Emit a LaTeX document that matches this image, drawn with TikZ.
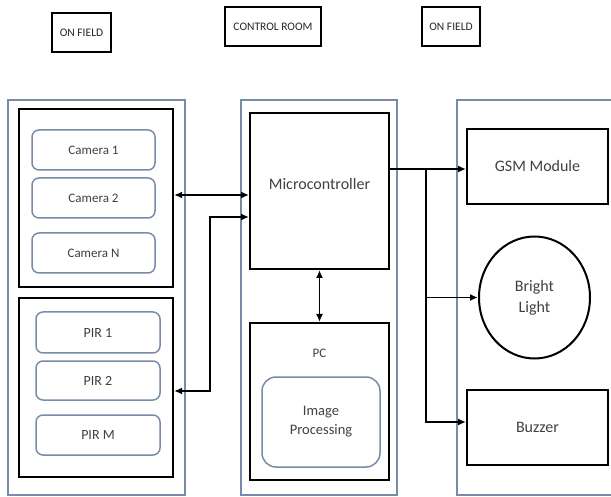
\documentclass[tikz,border=0pt]{standalone}
\usepackage{fontspec}
\setmainfont{Carlito}
\usetikzlibrary{arrows.meta,shapes.geometric}
\definecolor{panelblue}{RGB}{120,140,170}
\tikzset{
  panel/.style = {draw = panelblue, line width = 1.1pt, minimum width = #1, minimum height = 395pt, inner sep = 0pt},
  header/.style = {draw, line width = 1.4pt, minimum height = 39pt, inner sep = 0pt, font = \fontsize{11.5}{12}\selectfont, text = black!85},
  group/.style = {draw, line width = 2.2pt, inner sep = 0pt},
  item/.style = {draw = panelblue, line width = 1.5pt, rounded corners = 7pt, inner sep = 0pt, text = black!75},
  unit/.style = {draw, line width = 2pt, inner sep = 0pt, minimum width = 141pt, minimum height = 75pt, font = \fontsize{16}{18}\selectfont, text = black!75},
  link/.style = {line width = 1.8pt, -{Latex[length = 8pt, width = 7pt]}},
  dlink/.style = {line width = 1.8pt, {Latex[length = 8pt, width = 7pt]}-{Latex[length = 8pt, width = 7pt]}}
}
\begin{document}
\begin{tikzpicture}[x = 1pt, y = -1pt]
\useasboundingbox (0, 0) rectangle (611, 497);
\node[header, minimum width = 59pt] (fieldA) at (81.5, 32.5) {ON FIELD};
\node[header, minimum width = 96pt] (room) at (273, 26.5) {CONTROL ROOM};
\node[header, minimum width = 58pt] (fieldB) at (451, 26.5) {ON FIELD};
\node[panel = 177pt] (panelA) at (96.5, 297.5) {};
\node[panel = 156pt] (panelB) at (319, 297.5) {};
\node[panel = 158pt] (panelC) at (536, 297.5) {};
\node[group, minimum width = 154pt, minimum height = 178pt] (cams) at (96, 198) {};
\node[group, minimum width = 154pt, minimum height = 179pt] (pirs) at (96, 387.5) {};
\node[item, minimum width = 123pt, minimum height = 40pt, font = \fontsize{13}{15}\selectfont] (cam1) at (93.5, 150) {Camera 1};
\node[item, minimum width = 123pt, minimum height = 40pt, font = \fontsize{13}{15}\selectfont] (cam2) at (93.5, 198) {Camera 2};
\node[item, minimum width = 123pt, minimum height = 40pt, font = \fontsize{13}{15}\selectfont] (camN) at (93.5, 253) {Camera N};
\node[item, minimum width = 124pt, minimum height = 41pt, font = \fontsize{14}{16}\selectfont] (pir1) at (98, 332.5) {PIR 1};
\node[item, minimum width = 124pt, minimum height = 39pt, font = \fontsize{14}{16}\selectfont] (pir2) at (98, 380.5) {PIR 2};
\node[item, minimum width = 124pt, minimum height = 40pt, font = \fontsize{14}{16}\selectfont] (pirM) at (98, 435) {PIR M};
\node[unit, minimum width = 139pt, minimum height = 156pt] (micro) at (319.5, 191) {};
\node[text = black!75, font = \fontsize{16}{18}\selectfont] (microtxt) at (319.5, 184) {Microcontroller};
\node[unit, minimum width = 139pt, minimum height = 157pt] (pc) at (319.5, 401.5) {};
\node[text = black!75, font = \fontsize{13}{15}\selectfont] (pctxt) at (319.5, 353) {PC};
\node[item, minimum width = 118pt, minimum height = 90pt, rounded corners = 14pt, align = center, font = \fontsize{14.5}{19}\selectfont] (imgproc) at (321, 422) {Image\\Processing};
\node[unit] (gsm) at (537.5, 166.5) {GSM Module};
\node[draw, ellipse, line width = 2pt, minimum width = 111pt, minimum height = 122pt, inner sep = 0pt, align = center, text = black!75, font = \fontsize{16}{21}\selectfont] (light) at (534.5, 297.5) {Bright\\Light};
\node[unit] (buzzer) at (537.5, 427.5) {Buzzer};
\draw[dlink] (cams.east |- 0, 195) -- (micro.west |- 0, 195);
\draw[dlink] (pirs.east |- 0, 391) -| (210, 217) -- (micro.west |- 0, 217);
\draw[dlink] (micro.south) -- (pc.north);
\coordinate (split) at (426, 169);
\draw[link] (micro.east |- split) -- (gsm.west |- split);
\draw[link] (split) |- (buzzer.west |- 0, 422);
\draw[link] (split |- light.west) -- (light.west);
\end{tikzpicture}
\end{document}
